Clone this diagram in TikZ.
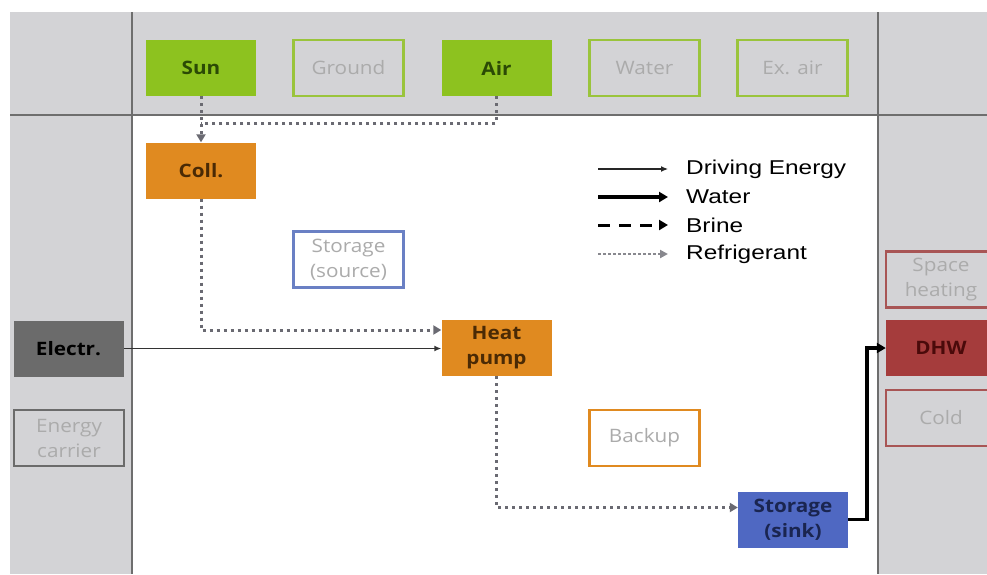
\documentclass[tikz,border=0pt]{standalone}
\usepackage{fontspec}
\setmainfont{Open Sans}
\newfontfamily\boxfont[FakeStretch=1.12]{Open Sans}
\newfontfamily\lgfont[FakeStretch=1.22]{Liberation Sans}
\usetikzlibrary{arrows.meta}
\definecolor{bgGrey}{HTML}{D3D3D6}
\definecolor{divLine}{HTML}{6E6E6E}
\definecolor{limeG}{HTML}{8DC21F}
\definecolor{limeO}{HTML}{9AC43C}
\definecolor{darkG}{HTML}{2B4A05}
\definecolor{dimTxt}{HTML}{ABABAB}
\definecolor{orgF}{HTML}{E08A20}
\definecolor{orgT}{HTML}{4A2A05}
\definecolor{bluO}{HTML}{6A80C4}
\definecolor{bluF}{HTML}{4F68C2}
\definecolor{bluT}{HTML}{1A2550}
\definecolor{elF}{HTML}{6B6B6B}
\definecolor{redF}{HTML}{A53C3C}
\definecolor{redO}{HTML}{A85555}
\definecolor{redT}{HTML}{4A0A0A}
\definecolor{refrC}{HTML}{6A6A72}
\tikzset{
  box/.style={minimum width=110pt, minimum height=56pt, inner sep=0pt, align=center,
    font=\boxfont\fontsize{18.5}{25}\selectfont},
  boxb/.style={box, font=\boxfont\bfseries\fontsize{18.5}{25}\selectfont},
  gfill/.style={boxb, fill=limeG, text=darkG},
  gline/.style={box, draw=limeO, line width=2.5pt, text=dimTxt},
  ofill/.style={boxb, fill=orgF, text=orgT},
  oline/.style={box, draw=orgF, line width=2.5pt, text=dimTxt},
  bline/.style={box, draw=bluO, line width=2.5pt, text=dimTxt},
  bfill/.style={boxb, fill=bluF, text=bluT},
  efill/.style={boxb, fill=elF, text=black},
  eline/.style={box, draw=elF, line width=2.5pt, text=dimTxt},
  rfill/.style={boxb, fill=redF, text=redT},
  rline/.style={box, draw=redO, line width=2.5pt, text=dimTxt},
  refr/.style={draw=refrC, line width=3pt, dash pattern=on 3pt off 4pt},
  refrtip/.style={refr, -{Triangle[length=8pt,width=9pt,fill=refrC]}},
  drive/.style={draw=black!80, line width=1.8pt, -{Latex[length=7pt,width=6pt]}},
  water/.style={draw=black, line width=3.5pt, -{Triangle[length=9pt,width=10pt]}},
  brine/.style={draw=black, line width=3pt, dash pattern=on 12pt off 9pt, -{Triangle[length=9pt,width=10pt]}},
  lgtxt/.style={anchor=west, inner sep=0pt, font=\lgfont\fontsize{20}{22}\selectfont}
}
\begin{document}
\begin{tikzpicture}[x=1pt,y=-1pt]
\clip (0,0) rectangle (987,574);
\fill[white] (0,0) rectangle (987,574);
% background panels
\fill[bgGrey] (10,12) rectangle (987,574);
\fill[white] (132,115) rectangle (878,574);
\draw[divLine, line width=1.5pt] (10,115) -- (987,115);
\draw[divLine, line width=1.5pt] (132,12) -- (132,574);
\draw[divLine, line width=1.5pt] (878,12) -- (878,574);
% top row
\node[gfill] (sun) at (201,68) {Sun};
\node[gline] (ground) at (348.5,68) {Ground};
\node[gfill] (air) at (496.5,68) {Air};
\node[gline] (water) at (644.5,68) {Water};
\node[gline] (exair) at (792.5,68) {Ex. air};
% middle
\node[ofill] (coll) at (201,170.5) {Coll.};
\node[bline] (stsrc) at (348.5,259.5) {Storage\\(source)};
\node[ofill] (hp) at (496.5,348) {Heat\\pump};
\node[oline] (backup) at (644.5,438) {Backup};
\node[bfill] (sink) at (793,519.5) {Storage\\(sink)};
% left
\node[efill] (electr) at (68.5,348.5) {Electr.};
\node[eline] (carrier) at (69,438) {Energy\\carrier};
% right
\node[rline] (space) at (941,279.5) {Space\\heating};
\node[rfill] (dhw) at (941,348) {DHW};
\node[rline] (cold) at (941,418) {Cold};
% connectors
\coordinate (join) at (201,123);
\draw[refr] (air.south) |- (join);
\draw[refrtip] (sun.south) -- (coll.north);
\draw[refrtip] (coll.south) |- ([yshift=18pt]hp.west);
\draw[drive] (electr.east) -- (electr.east -| hp.west);
\draw[refrtip] (hp.south) |- ([yshift=12pt]sink.west);
\draw[water] (sink.east) -- ++(19,0) |- (dhw.west);
% legend
\coordinate (l1a) at (598,169); \coordinate (l1b) at (668,169);
\coordinate (l2a) at (598,197); \coordinate (l2b) at (668,197);
\coordinate (l3a) at (598,225); \coordinate (l3b) at (668,225);
\coordinate (l4a) at (598,254); \coordinate (l4b) at (668,254);
\draw[draw=black!85, line width=1.2pt, -{Latex[length=7pt,width=6pt]}] (l1a) -- (l1b);
\draw[water] (l2a) -- (l2b);
\draw[brine] (l3a) -- (l3b);
\draw[draw=refrC!80, line width=2.2pt, dash pattern=on 2.5pt off 2.5pt, -{Triangle[length=8pt,width=8pt,fill=refrC!80]}] (l4a) -- (l4b);
\node[lgtxt] (lg1) at (686,169) {Driving Energy};
\node[lgtxt] (lg2) at (686,197) {Water};
\node[lgtxt] (lg3) at (686,225) {Brine};
\node[lgtxt] (lg4) at (686,254) {Refrigerant};
\end{tikzpicture}
\end{document}
